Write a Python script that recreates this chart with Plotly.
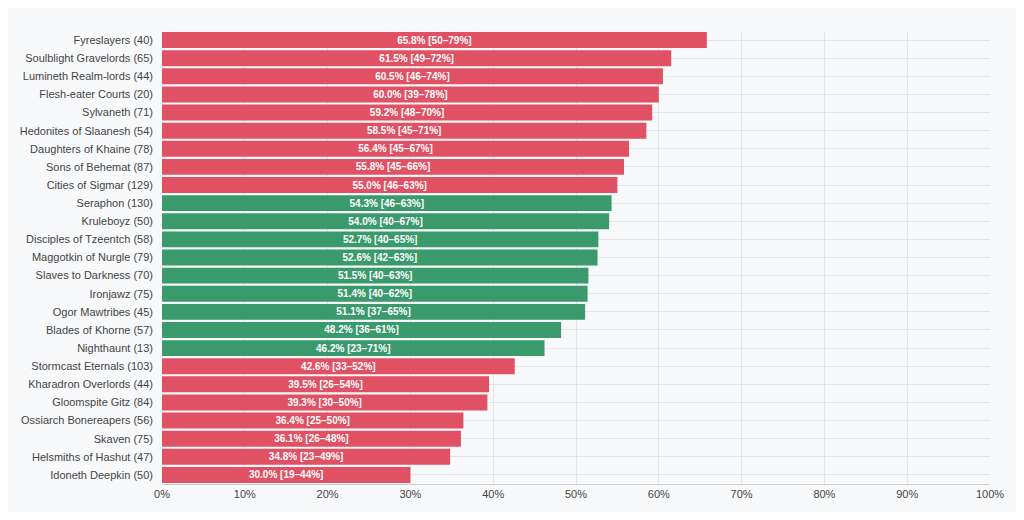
import plotly.graph_objects as go

factions = ["Fyreslayers (40)", "Soulblight Gravelords (65)", "Lumineth Realm-lords (44)",
            "Flesh-eater Courts (20)", "Sylvaneth (71)", "Hedonites of Slaanesh (54)",
            "Daughters of Khaine (78)", "Sons of Behemat (87)", "Cities of Sigmar (129)",
            "Seraphon (130)", "Kruleboyz (50)", "Disciples of Tzeentch (58)",
            "Maggotkin of Nurgle (79)", "Slaves to Darkness (70)", "Ironjawz (75)",
            "Ogor Mawtribes (45)", "Blades of Khorne (57)", "Nighthaunt (13)",
            "Stormcast Eternals (103)", "Kharadron Overlords (44)", "Gloomspite Gitz (84)",
            "Ossiarch Bonereapers (56)", "Skaven (75)", "Helsmiths of Hashut (47)",
            "Idoneth Deepkin (50)"]
win_rate = [65.8, 61.5, 60.5, 60.0, 59.2, 58.5, 56.4, 55.8, 55.0, 54.3, 54.0, 52.7, 52.6,
            51.5, 51.4, 51.1, 48.2, 46.2, 42.6, 39.5, 39.3, 36.4, 36.1, 34.8, 30.0]
ci_low = [50, 49, 46, 39, 48, 45, 45, 45, 46, 46, 40, 40, 42, 40, 40, 37, 36, 23, 33, 26, 30, 25, 26, 23, 19]
ci_high = [79, 72, 74, 78, 70, 71, 67, 66, 63, 63, 67, 65, 63, 63, 62, 65, 61, 71, 52, 54, 50, 50, 48, 49, 44]
# "r" = outside the balanced band, "g" = balanced
status = ["r"] * 9 + ["g"] * 9 + ["r"] * 7

RED = "#e05263"
GREEN = "#3a9a6c"
colors = [GREEN if s == "g" else RED for s in status]
labels = [f"{w:.1f}% [{lo}–{hi}%]" for w, lo, hi in zip(win_rate, ci_low, ci_high)]

fig = go.Figure(go.Bar(
    x=[w / 100 for w in win_rate], y=factions, orientation="h",
    marker=dict(color=colors, line=dict(width=0)),
    text=labels, textposition="inside", insidetextanchor="middle",
    textfont=dict(color="white", size=10, family="Liberation Sans"),
    texttemplate="<b>%{text}</b>", hoverinfo="skip",
))
fig.update_layout(
    width=1008, height=504,
    margin=dict(l=135, r=23, t=23, b=28),
    paper_bgcolor="#f8f9fa", plot_bgcolor="#f8f9fa",
    bargap=0.12, showlegend=False,
    font=dict(family="Liberation Sans", size=11, color="#444"),
    uniformtext=dict(mode="show", minsize=10),
)
fig.update_xaxes(range=[0, 1], tickformat=".0%", dtick=0.1, gridcolor="#e3e5e8",
                 zeroline=False, showline=True, linecolor="#ccc", ticks="", ticklen=4)
fig.update_yaxes(autorange="reversed", gridcolor="#e3e5e8", ticks="", ticklabelstandoff=8)
fig.write_html("out.html")
